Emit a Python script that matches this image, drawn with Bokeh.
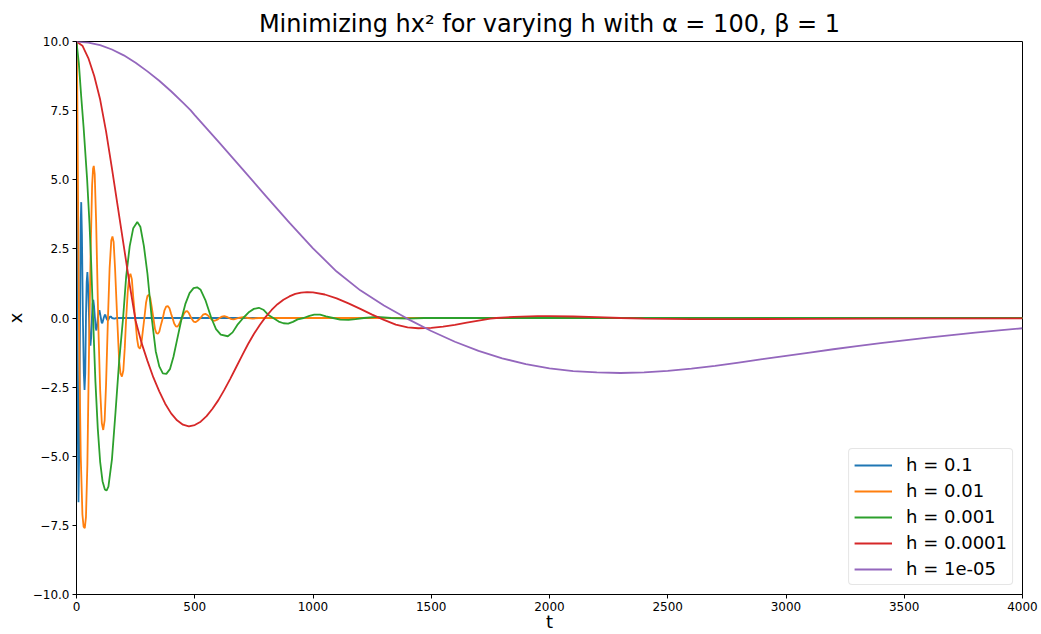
from bokeh.plotting import figure
from bokeh.models import Range1d, FixedTicker, CustomJSTickFormatter
from bokeh.embed import file_html
from bokeh.resources import INLINE

# ---------------- data ----------------
labels = ["h = 0.1", "h = 0.01", "h = 0.001", "h = 0.0001", "h = 1e-05"]
colors = ["#1f77b4", "#ff7f0e", "#2ca02c", "#d62728", "#9467bd"]

x_ticks = [0, 500, 1000, 1500, 2000, 2500, 3000, 3500, 4000]
y_ticks = [-10, -7.5, -5, -2.5, 0, 2.5, 5, 7.5, 10]

t_h1 = [0, 3, 6, 8.5, 11, 15, 18, 20, 23, 27, 31, 34, 37, 40, 43, 46, 49, 53, 56, 59,
        62, 65, 68, 71, 74, 78, 81, 84, 87, 90, 94, 97, 100, 103, 106, 109, 112, 115,
        119, 122, 126, 130, 134, 138, 142, 146, 150, 160, 170, 4000]
x_h1 = [10, 3, -4.5, -6.66, -5, 0, 3.5, 4.19, 3, 0, -2, -2.6, -2, 0, 1.3, 1.66, 1.2, 0,
        -0.8, -1.0, -0.7, 0, 0.5, 0.66, 0.45, 0, -0.35, -0.45, -0.3, 0, 0.22, 0.28, 0.15,
        0, -0.15, -0.19, -0.1, 0, 0.1, 0.12, 0, -0.07, -0.08, 0, 0.05, 0.05, 0, -0.02, 0, 0]

t_h2 = [0, 3, 6, 9, 13, 18, 25, 30, 35, 40, 46, 54, 60, 66, 70, 73, 77, 83, 93, 100,
        107, 113, 119, 125, 133, 140, 147, 152, 157, 163, 172, 180, 186, 192, 198, 204,
        210, 217, 223, 228, 234, 240, 248, 256, 262, 268, 274, 280, 287, 294, 300, 306,
        312, 318, 325, 332, 338, 344, 350, 357, 365, 372, 379, 386, 393, 400, 406, 413,
        420, 426, 432, 440, 447, 455, 462, 468, 475, 485, 495, 503, 512, 524, 535, 545,
        555, 565, 575, 585, 595, 605, 615, 625, 635, 645, 655, 665, 685, 705, 725, 745,
        770, 4000]
x_h2 = [10, 8.5, 5, 1.5, -2, -5, -7.1, -7.55, -7.6, -7.2, -5.3, -0.5, 2.5, 4.8, 5.4, 5.5,
        5.2, 3.5, -0.5, -2.6, -3.8, -4.05, -3.7, -2.4, 0, 1.8, 2.8, 2.95, 2.75, 1.8, 0,
        -1.5, -2.0, -2.12, -1.9, -1.1, 0, 1.0, 1.5, 1.6, 1.4, 0.75, 0, -0.75, -1.05,
        -1.11, -0.95, -0.5, 0, 0.55, 0.8, 0.84, 0.72, 0.4, 0, -0.4, -0.55, -0.57, -0.5,
        -0.25, 0, 0.28, 0.41, 0.43, 0.35, 0.15, 0, -0.2, -0.3, -0.31, -0.26, -0.1, 0,
        0.17, 0.24, 0.25, 0.18, 0, -0.13, -0.15, -0.1, 0, 0.12, 0.15, 0.1, 0, -0.08,
        -0.1, -0.06, 0, 0.05, 0.07, 0.04, 0, -0.04, -0.05, 0, 0.03, 0, -0.02, 0, 0]

t_h3 = [0, 10, 20, 30, 45, 55, 62, 70, 80, 90, 100, 110, 120, 127, 135, 150, 165, 180,
        197, 210, 225, 240, 257, 270, 285, 300, 318, 335, 350, 365, 380, 395, 410, 425,
        445, 460, 478, 495, 510, 525, 545, 570, 590, 610, 640, 660, 680, 705, 730, 750,
        771, 790, 810, 832, 855, 875, 895, 915, 935, 960, 985, 1005, 1030, 1055, 1085,
        1115, 1150, 1180, 1215, 1270, 1330, 1400, 1470, 4000]
x_h3 = [10, 9.2, 8.0, 6.9, 5.0, 3.4, 2.0, 0, -2.3, -4.0, -5.2, -5.9, -6.2, -6.24, -6.1,
        -5.1, -3.4, -1.6, 0, 1.5, 2.6, 3.25, 3.47, 3.3, 2.6, 1.6, 0, -1.2, -1.75, -2.0,
        -2.02, -1.85, -1.4, -0.8, 0, 0.5, 0.9, 1.08, 1.11, 1.02, 0.65, 0, -0.4, -0.6,
        -0.66, -0.52, -0.25, 0, 0.22, 0.33, 0.37, 0.3, 0.12, 0, -0.13, -0.19, -0.2,
        -0.14, -0.05, 0, 0.08, 0.12, 0.12, 0.06, 0, -0.06, -0.07, -0.04, 0, 0.04, 0,
        -0.02, 0, 0]

t_h4 = [0, 25, 50, 75, 100, 125, 150, 175, 200, 225, 250, 275, 300, 325, 350, 375, 400,
        425, 450, 475, 500, 525, 550, 575, 600, 625, 650, 675, 700, 725, 750, 775, 800,
        825, 850, 875, 900, 925, 950, 975, 1000, 1050, 1100, 1150, 1200, 1250, 1300,
        1350, 1400, 1445, 1500, 1550, 1600, 1650, 1700, 1750, 1775, 1850, 1950, 2000,
        2100, 2200, 2300, 2400, 2600, 2800, 3100, 3400, 4000]
x_h4 = [10, 9.85, 9.4, 8.75, 7.9, 6.75, 5.4, 4.0, 2.6, 1.2, -0.1, -0.9, -1.55, -2.15,
        -2.65, -3.1, -3.45, -3.7, -3.86, -3.92, -3.87, -3.75, -3.55, -3.28, -2.97, -2.6,
        -2.2, -1.78, -1.36, -0.95, -0.58, -0.25, 0.04, 0.29, 0.5, 0.66, 0.78, 0.87,
        0.92, 0.935, 0.925, 0.85, 0.71, 0.53, 0.33, 0.12, -0.07, -0.24, -0.34, -0.37,
        -0.355, -0.31, -0.25, -0.17, -0.095, -0.02, 0, 0.04, 0.065, 0.068, 0.055, 0.03,
        0, -0.02, -0.04, -0.04, -0.03, -0.02, -0.01]

t_h5 = [0, 50, 100, 150, 200, 250, 300, 350, 400, 450, 482, 500, 600, 700, 800, 900,
        1000, 1100, 1200, 1300, 1400, 1500, 1600, 1700, 1800, 1900, 2000, 2100, 2200,
        2300, 2400, 2500, 2600, 2700, 2800, 2900, 3000, 3100, 3200, 3300, 3400, 3500,
        3600, 3700, 3800, 3900, 4000]
x_h5 = [10, 9.96, 9.87, 9.71, 9.5, 9.23, 8.92, 8.58, 8.2, 7.79, 7.52, 7.34, 6.38, 5.4,
        4.42, 3.45, 2.52, 1.68, 1.0, 0.45, -0.03, -0.47, -0.86, -1.19, -1.46, -1.67,
        -1.82, -1.92, -1.97, -1.99, -1.97, -1.91, -1.83, -1.73, -1.61, -1.49, -1.37,
        -1.25, -1.13, -1.02, -0.91, -0.81, -0.71, -0.62, -0.53, -0.45, -0.37]

series_t = [t_h1, t_h2, t_h3, t_h4, t_h5]
series_x = [x_h1, x_h2, x_h3, x_h4, x_h5]

# ---------------- figure ----------------
FONT = "DejaVu Sans"
p = figure(width=1041, height=634, output_backend="svg", toolbar_location=None,
           x_range=Range1d(0, 4000), y_range=Range1d(-10, 10),
           min_border_left=76, min_border_right=19, min_border_top=41,
           min_border_bottom=40,
           title="Minimizing hx\u00b2 for varying h with \u03b1 = 100, \u03b2 = 1")
p.background_fill_color = "white"
p.border_fill_color = "white"
p.outline_line_color = "black"
p.outline_line_width = 1

p.title.text_font = FONT
p.title.text_font_size = "24px"
p.title.text_font_style = "normal"
p.title.text_color = "black"
p.title.align = "center"
p.title.standoff = 8

p.xgrid.visible = False
p.ygrid.visible = False

for ax in p.axis:
    ax.axis_line_color = "black"
    ax.major_tick_line_color = "black"
    ax.major_tick_out = 4
    ax.major_tick_in = 0
    ax.minor_tick_line_color = None
    ax.major_label_text_font = FONT
    ax.major_label_text_font_size = "12px"
    ax.major_label_text_color = "black"
    ax.major_label_standoff = 3
    ax.axis_label_text_font = FONT
    ax.axis_label_text_font_size = "18px"
    ax.axis_label_text_font_style = "normal"
    ax.axis_label_text_color = "black"

p.xaxis.ticker = FixedTicker(ticks=x_ticks)
p.yaxis.ticker = FixedTicker(ticks=y_ticks)
p.yaxis.formatter = CustomJSTickFormatter(
    code="return (tick < 0 ? '\u2212' : '') + Math.abs(tick).toFixed(1);")

p.yaxis.axis_label = "x"
p.yaxis.axis_label_standoff = 4
p.xaxis.axis_label = "t"
p.xaxis.axis_label_standoff = -3

for t, x, c, lab in zip(series_t, series_x, colors, labels):
    p.line(t, x, line_color=c, line_width=1.8, legend_label=lab)

leg = p.legend[0]
leg.location = "bottom_right"
leg.margin = 9
leg.border_line_color = "#cccccc"
leg.border_line_width = 1
leg.background_fill_alpha = 0.8
leg.label_text_font = FONT
leg.label_text_font_size = "18px"
leg.label_text_color = "black"
leg.glyph_width = 38
leg.glyph_height = 20
leg.label_height = 20
leg.spacing = 5
leg.padding = 5
leg.label_standoff = 14
if "border_radius" in leg.properties():
    leg.border_radius = 4

open("out.html", "w").write(file_html(p, INLINE))
